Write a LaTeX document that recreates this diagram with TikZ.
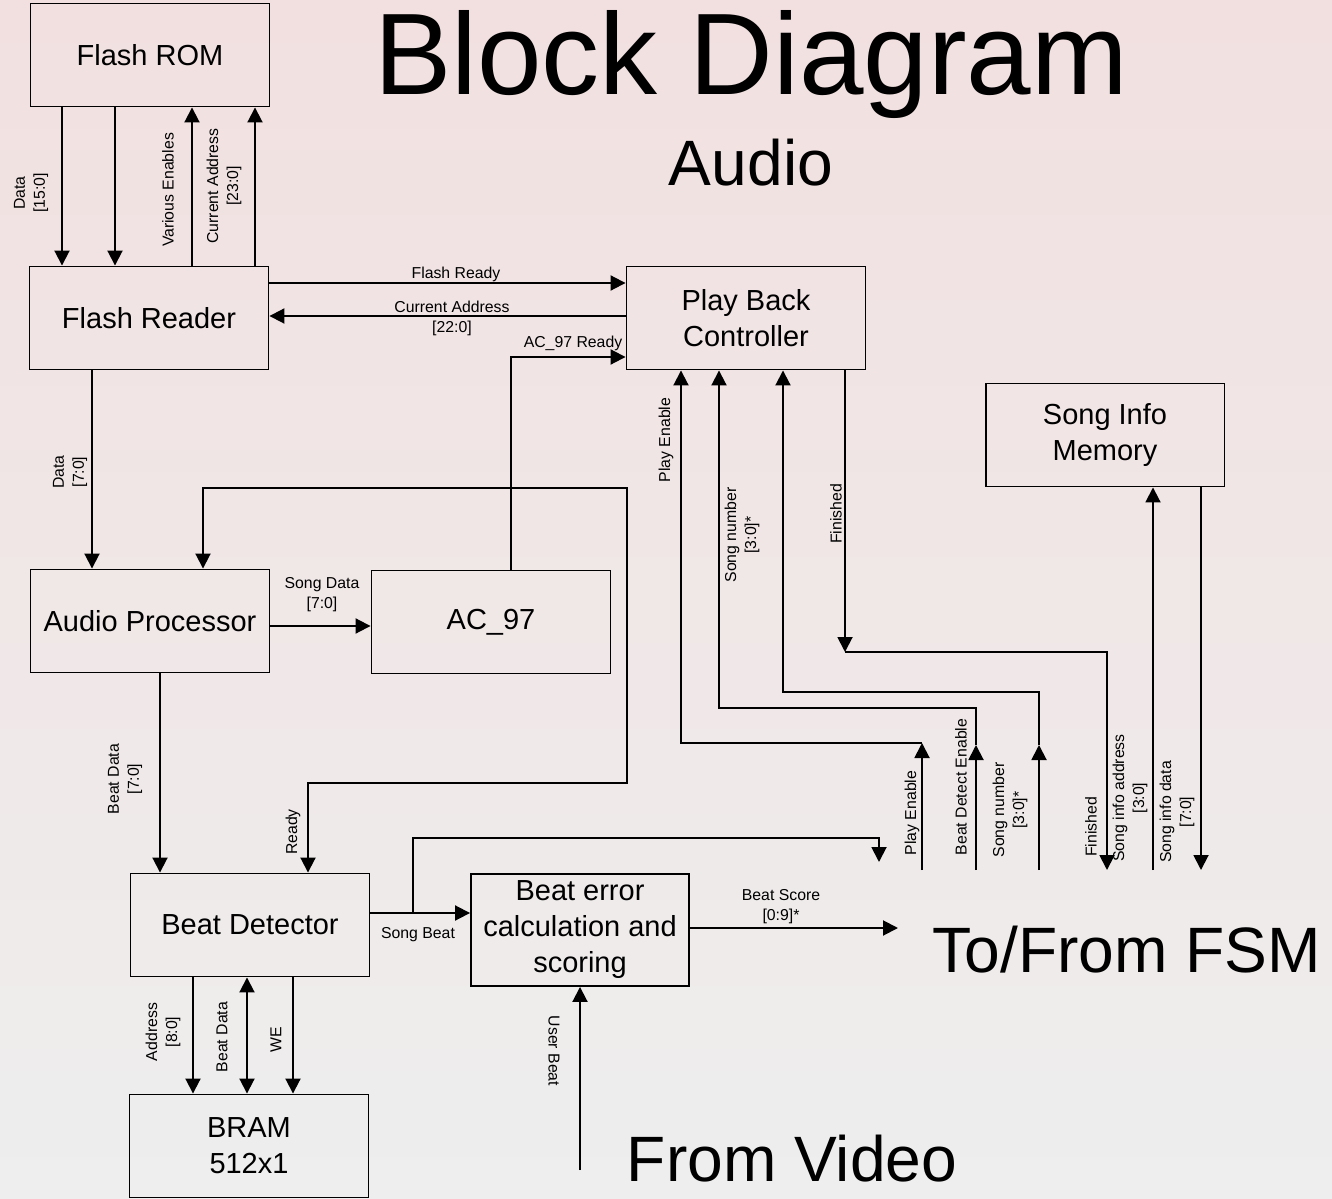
\documentclass[tikz,border=0pt]{standalone}
\usepackage{fontspec}
\setmainfont{Liberation Sans}
\usetikzlibrary{arrows.meta,positioning,calc}

\begin{document}
\begin{tikzpicture}[
    x=0.02cm, y=-0.02cm,
    >={Triangle[length=0.3cm, width=0.3cm]},
    every path/.style={line width=1.1pt},
    block/.style={rectangle, draw, line width=1.1pt, minimum width=4.78cm, minimum height=2.06cm, align=center, font=\fontsize{16.5}{20.5}\selectfont},
    lbl/.style={font=\fontsize{9}{11.4}\selectfont, align=center, inner sep=1pt},
    big/.style={font=\fontsize{36.5}{40}\selectfont, anchor=base}
]
    % Background
    \fill[top color={rgb,255:red,242;green,224;blue,224}, middle color={rgb,255:red,240;green,230;blue,230}, bottom color={rgb,255:red,238;green,238;blue,238}] (0,0) rectangle (1332,1199);
    \useasboundingbox (0,0) rectangle (1332,1199);

    % Titles
    \node[anchor=base, font=\fontsize{66}{70}\selectfont] (title) at (751,95) {Block Diagram};
    \node[big] (audio) at (751,186) {Audio};
    \node[big] (fsm) at (1127,972) {To/From FSM};
    \node[big] (video) at (792,1181) {From Video};

    % Blocks
    \node[block] (rom) at (150,55) {Flash ROM};
    \node[block] (reader) at (149,318) {Flash Reader};
    \node[block] (pbc) at (746,318) {Play Back\\Controller};
    \node[block] (info) at (1105,435) {Song Info\\Memory};
    \node[block] (aproc) at (150,621) {Audio Processor};
    \node[block] (ac97) at (491,622) {AC\_97};
    \node[block] (beatdet) at (250,925) {Beat Detector};
    \node[block, minimum width=4.36cm, minimum height=2.24cm] (beaterr) at (580,930) {Beat error\\calculation and\\scoring};
    \node[block] (bram) at (249,1146) {BRAM\\512x1};

    % Free ends towards the FSM
    \coordinate (fsmPlay) at (922,870);
    \coordinate (fsmBeatEn) at (976,870);
    \coordinate (fsmSong) at (1039,870);
    \coordinate (fsmFin) at (1107,870);
    \coordinate (fsmAddr) at (1153,870);
    \coordinate (fsmData) at (1201,870);
    \coordinate (fsmBeat) at (879,862);
    \coordinate (fsmScore) at (898,928);
    \coordinate (userBeat) at (580,1170);

    % Flash ROM <-> Flash Reader
    \draw[->] (62,0 |- rom.south) -- (62,0 |- reader.north);
    \draw[->] (115,0 |- rom.south) -- (115,0 |- reader.north);
    \draw[->] (192,0 |- reader.north) -- (192,0 |- rom.south);
    \draw[->] (255,0 |- reader.north) -- (255,0 |- rom.south);
    \node[lbl, rotate=90] (lDataRom) at (31,193) {Data\\{[15:0]}};
    \node[lbl, rotate=90] (lEnables) at (168,190) {Various Enables};
    \node[lbl, rotate=90] (lAddrRom) at (224,186) {Current Address\\{[23:0]}};

    % Flash Reader <-> Play Back Controller
    \draw[->] (reader.east |- 0,283) -- (pbc.west |- 0,283);
    \draw[->] (pbc.west |- 0,316) -- (reader.east |- 0,316);
    \draw[->] (511,0 |- ac97.north) |- (pbc.west |- 0,357);
    \node[lbl] (lFlashRdy) at (456,274) {Flash Ready};
    \node[lbl] (lAddrPbc) at (452,318) {Current Address\\{[22:0]}};
    \node[lbl] (lAcRdy) at (573,343) {AC\_97 Ready};

    % Audio path
    \draw[->] (92,0 |- reader.south) -- (92,0 |- aproc.north);
    \node[lbl, rotate=90] (lData8) at (70,472) {Data\\{[7:0]}};
    \draw[->] (aproc.east |- 0,626) -- (ac97.west |- 0,626);
    \node[lbl] (lSongData) at (322,595) {Song Data\\{[7:0]}};
    \draw[<->] (203,0 |- aproc.north) |- (627,488) -- (627,783) -| (308,0 |- beatdet.north);
    \node[lbl, rotate=90] (lReady) at (293,832) {Ready};
    \draw[->] (160,0 |- aproc.south) -- (160,0 |- beatdet.north);
    \node[lbl, rotate=90] (lBeatData8) at (125,779) {Beat Data\\{[7:0]}};

    % Beat Detector <-> BRAM
    \draw[->] (193,0 |- beatdet.south) -- (193,0 |- bram.north);
    \draw[<->] (247,0 |- beatdet.south) -- (247,0 |- bram.north);
    \draw[->] (293,0 |- beatdet.south) -- (293,0 |- bram.north);
    \node[lbl, rotate=90] (lAddrBram) at (163,1032) {Address\\{[8:0]}};
    \node[lbl, rotate=90] (lBeatData) at (222,1037) {Beat Data};
    \node[lbl, rotate=90] (lWE) at (276,1040) {WE};

    % Scoring
    \draw[->] (beatdet.east |- 0,913) -- (beaterr.west |- 0,913);
    \draw[->] (413,913) |- (879,838) -- (fsmBeat);
    \node[lbl] (lSongBeat) at (418,935) {Song Beat};
    \draw[->] (beaterr.east |- 0,928) -- (fsmScore);
    \node[lbl] (lScore) at (781,907) {Beat Score\\{[0:9]*}};
    \draw[->] (userBeat) -- (beaterr.south);
    \node[lbl, rotate=-90] (lUserBeat) at (554,1051) {User Beat};

    % Play Back Controller <-> FSM
    \draw[->] (fsmPlay) -- (922,743);
    \draw[->] (922,743) -| (681,0 |- pbc.south);
    \draw[->] (fsmBeatEn) -- (976,745);
    \draw[->] (976,745) |- (719,708) -- (719,0 |- pbc.south);
    \draw[->] (fsmSong) -- (1039,745);
    \draw[->] (1039,745) |- (783,692) -- (783,0 |- pbc.south);
    \draw[->] (845,0 |- pbc.south) -- (845,652);
    \draw[->] (845,652) -| (fsmFin);
    \node[lbl, rotate=90] (lPlayPbc) at (666,440) {Play Enable};
    \node[lbl, rotate=90] (lSongPbc) at (742,535) {Song number\\{[3:0]*}};
    \node[lbl, rotate=90] (lFinPbc) at (836,514) {Finished};
    \node[lbl, rotate=90] (lPlayFsm) at (912,813) {Play Enable};
    \node[lbl, rotate=90] (lBeatEnFsm) at (961,787) {Beat Detect Enable};
    \node[lbl, rotate=90] (lSongFsm) at (1010,810) {Song number\\{[3:0]*}};
    \node[lbl, rotate=90] (lFinFsm) at (1091,827) {Finished};

    % Song Info Memory
    \draw[->] (fsmAddr) -- (1153,0 |- info.south);
    \draw[->] (1201,0 |- info.south) -- (fsmData);
    \node[lbl, rotate=90] (lInfoAddr) at (1130,798) {Song info address\\{[3:0]}};
    \node[lbl, rotate=90] (lInfoData) at (1177,812) {Song info data\\{[7:0]}};
\end{tikzpicture}
\end{document}
